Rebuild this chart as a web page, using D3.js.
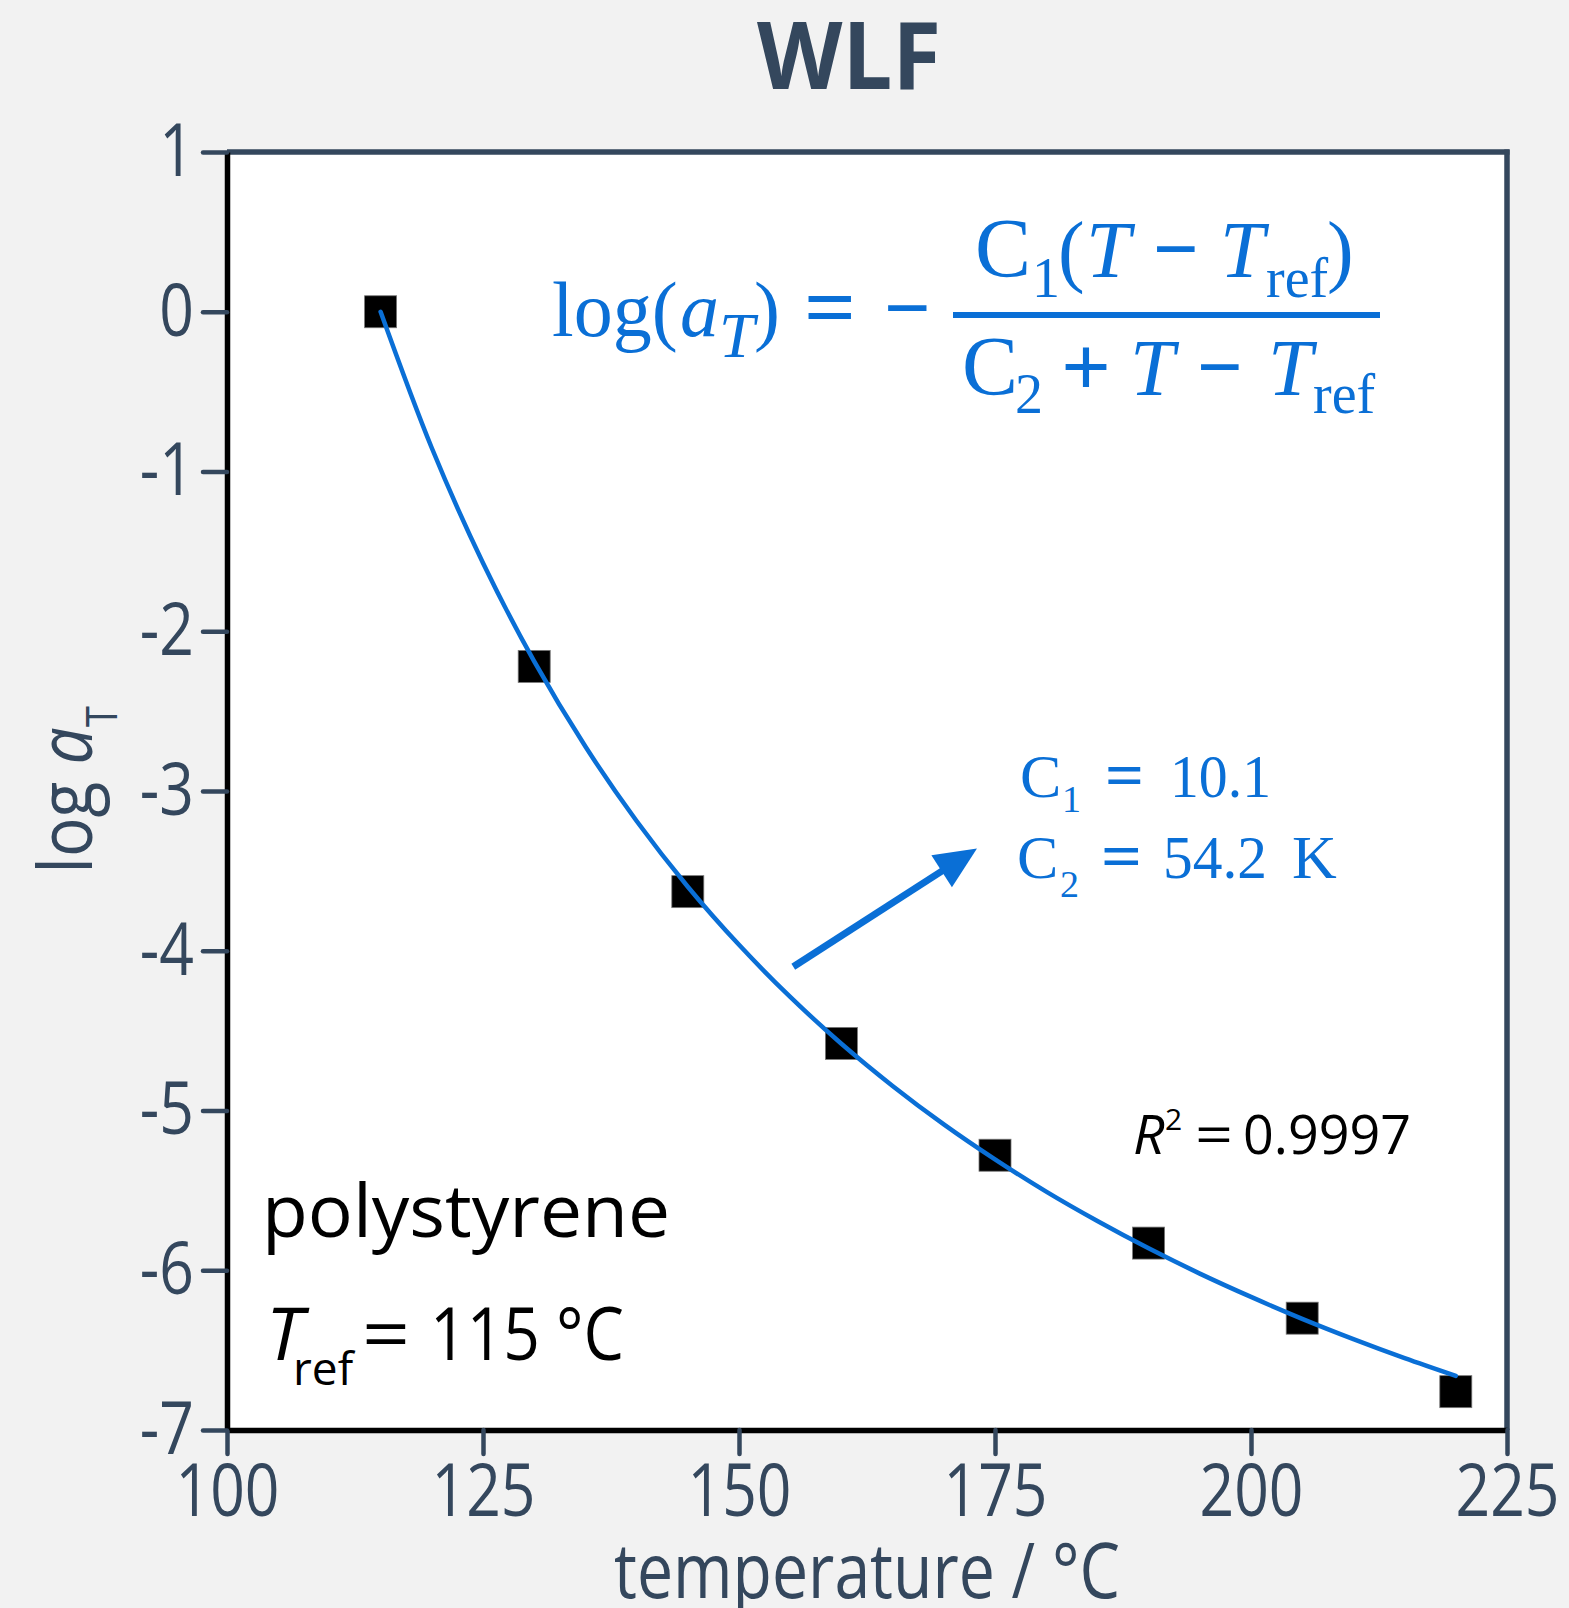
<!DOCTYPE html>
<html><head><meta charset="utf-8">
<script src="https://cdn.jsdelivr.net/npm/d3@7"></script>
<style>html,body{margin:0;padding:0;background:#f2f2f2;}svg{display:block}</style>
</head><body>
<script>
// ---- data ----
const temperatures = [115, 130, 145, 160, 175, 190, 205, 220];
const logAT = [0.0, -2.22, -3.63, -4.58, -5.28, -5.83, -6.30, -6.76];
// fitted WLF curve (C1 = 10.1, C2 = 54.2 K), read at 5 °C steps
const fitT = [115,120,125,130,135,140,145,150,155,160,165,170,175,180,185,190,195,200,205,210,215,220];
const fitLogAT = [0,-0.853,-1.573,-2.189,-2.722,-3.188,-3.599,-3.963,-4.289,-4.582,-4.846,-5.087,-5.306,-5.508,-5.692,-5.863,-6.021,-6.167,-6.304,-6.431,-6.550,-6.661];
const xTicks = [100, 125, 150, 175, 200, 225];
const yTicks = [1, 0, -1, -2, -3, -4, -5, -6, -7];
const xDomain = [100, 225];
const yDomain = [-7, 1];
const titleText = "WLF";
const xLabel = "temperature / °C";
const c1Value = "10.1";
const c2Value = "54.2";
const r2Value = "0.9997";
const trefValue = "115";
// arrow annotation in data units [T, logaT]
const arrowFrom = [155.3, -4.10];
const arrowTo = [173.24, -3.36];

// ---- layout ----
const W = 1569, H = 1608;
const L = 227, R = 1507, T = 152, B = 1430;
const slate = "#34475d", blue = "#0a6fd6";

const svg = d3.select("body").append("svg").attr("width", W).attr("height", H);
svg.append("rect").attr("width", W).attr("height", H).attr("fill", "#f2f2f2");

const x = d3.scaleLinear().domain(xDomain).range([L, R]);
const y = d3.scaleLinear().domain(yDomain).range([B, T]);

svg.append("rect").attr("x", L).attr("y", T).attr("width", R - L).attr("height", B - T).attr("fill", "#fff");

// top & right frame (slate)
svg.append("line").attr("x1", L).attr("x2", R + 2.5).attr("y1", T).attr("y2", T)
  .attr("stroke", slate).attr("stroke-width", 5.5);
svg.append("line").attr("x1", R).attr("x2", R).attr("y1", T - 2.5).attr("y2", B)
  .attr("stroke", slate).attr("stroke-width", 5.5);

const SX = 0.83;
function styleAxis(g) {
  g.select(".domain").attr("stroke", "#000").attr("stroke-width", 5.5);
  g.selectAll(".tick line").attr("stroke", slate).attr("stroke-width", 4.5).attr("stroke-linecap", "round");
  g.selectAll(".tick text").attr("fill", slate).attr("font-family", "'Open Sans', sans-serif").attr("font-size", 73);
}

const gx = svg.append("g").attr("transform", `translate(0,${B})`)
  .call(d3.axisBottom(x).tickValues(xTicks).tickFormat(d => String(d)).tickSize(24).tickSizeOuter(0).tickPadding(10));
styleAxis(gx);
gx.selectAll(".tick text").attr("transform", `scale(${SX},1)`);

const gy = svg.append("g").attr("transform", `translate(${L},0)`)
  .call(d3.axisLeft(y).tickValues(yTicks).tickFormat(d => String(d)).tickSize(24).tickSizeOuter(0).tickPadding(9));
styleAxis(gy);
gy.selectAll(".tick text").each(function () {
  const t = d3.select(this);
  const ox = +t.attr("x");
  t.attr("x", ox / SX).attr("transform", `scale(${SX},1)`);
});

// data squares
const S = 32;
svg.append("g").selectAll("rect").data(temperatures.map((t, i) => [t, logAT[i]])).join("rect")
  .attr("x", d => x(d[0]) - S / 2).attr("y", d => y(d[1]) - S / 2)
  .attr("width", S).attr("height", S).attr("fill", "#000").attr("stroke", "#777").attr("stroke-width", 0.8);

// fit curve (drawn over the squares, as in the reference)
svg.append("path")
  .datum(fitT.map((t, i) => [t, fitLogAT[i]]))
  .attr("d", d3.line().x(d => x(d[0])).y(d => y(d[1])).curve(d3.curveCatmullRom))
  .attr("fill", "none").attr("stroke", blue).attr("stroke-width", 4.5).attr("stroke-linecap", "round");

// arrow
{
  const x0 = x(arrowFrom[0]), y0 = y(arrowFrom[1]);
  const x1 = x(arrowTo[0]), y1 = y(arrowTo[1]);
  const dx = x1 - x0, dy = y1 - y0, len = Math.hypot(dx, dy);
  const ux = dx / len, uy = dy / len, nx = -uy, ny = ux;
  const hl = 42, hw = 19;
  const bx = x1 - hl * ux, by = y1 - hl * uy;
  svg.append("line").attr("x1", x0).attr("y1", y0).attr("x2", bx + 2 * ux).attr("y2", by + 2 * uy)
    .attr("stroke", blue).attr("stroke-width", 7);
  svg.append("path").attr("d", `M${x1},${y1}L${bx + hw * nx},${by + hw * ny}L${bx - hw * nx},${by - hw * ny}Z`)
    .attr("fill", blue);
}

// text helper
function txt(p, tx, ty, s, o) {
  const t = p.append("text").attr("x", tx).attr("y", ty).text(s)
    .attr("font-family", o.family || "'Open Sans', sans-serif")
    .attr("font-size", o.size).attr("fill", o.fill || "#000");
  if (o.style) t.attr("font-style", o.style);
  if (o.weight) t.attr("font-weight", o.weight);
  if (o.anchor) t.attr("text-anchor", o.anchor);
  if (o.len) t.attr("textLength", o.len).attr("lengthAdjust", "spacingAndGlyphs");
  return t;
}
const serif = "'Liberation Serif', 'Times New Roman', serif";

// title
txt(svg, 757, 89, titleText, {size: 94, weight: 700, fill: slate, len: 184});
// x label
txt(svg, 614, 1598, xLabel, {size: 77, fill: slate, len: 506});
// y label
{
  const g = svg.append("g").attr("transform", `translate(92,790) rotate(-90) scale(0.88,1)`);
  const t = g.append("text").attr("text-anchor", "middle").attr("fill", slate)
    .attr("font-family", "'Open Sans', sans-serif").attr("font-size", 75);
  t.append("tspan").text("log ");
  t.append("tspan").attr("font-style", "italic").text("a");
  t.append("tspan").attr("font-size", 43).attr("dy", 25).text("T");
}

// formula
const fm = {family: serif, fill: blue};
const op = {family: serif, fill: blue, weight: 700};
txt(svg, 552, 336, "log(", {...fm, size: 78});
txt(svg, 680, 336, "a", {...fm, size: 78, style: "italic"});
txt(svg, 719, 357, "T", {...fm, size: 64, style: "italic"});
txt(svg, 754, 336, ")", {...fm, size: 78});
txt(svg, 804, 336, "=", {...op, size: 84, len: 52});
txt(svg, 884, 336, "−", {...op, size: 84, len: 47});
svg.append("line").attr("x1", 953).attr("x2", 1380).attr("y1", 315).attr("y2", 315)
  .attr("stroke", blue).attr("stroke-width", 6);
// numerator
txt(svg, 975, 277, "C", {...fm, size: 84});
txt(svg, 1032, 297, "1", {...fm, size: 56});
txt(svg, 1058, 277, "(", {...fm, size: 80});
txt(svg, 1086, 277, "T", {...fm, size: 80, style: "italic"});
txt(svg, 1153, 277, "−", {...op, size: 84, len: 46});
txt(svg, 1220, 277, "T", {...fm, size: 80, style: "italic"});
txt(svg, 1266, 297, "ref", {...fm, size: 56});
txt(svg, 1327, 277, ")", {...fm, size: 80});
// denominator
txt(svg, 962, 395, "C", {...fm, size: 84});
txt(svg, 1015, 413, "2", {...fm, size: 56});
txt(svg, 1061, 395, "+", {...op, size: 84, len: 50});
txt(svg, 1130, 395, "T", {...fm, size: 80, style: "italic"});
txt(svg, 1197, 395, "−", {...op, size: 84, len: 46});
txt(svg, 1268, 395, "T", {...fm, size: 80, style: "italic"});
txt(svg, 1313, 413, "ref", {...fm, size: 56});

// C1 / C2
txt(svg, 1020, 797, "C", {...fm, size: 62});
txt(svg, 1062, 812, "1", {...fm, size: 38});
txt(svg, 1105, 797, "=", {...op, size: 64, len: 39});
txt(svg, 1170, 797, c1Value, {...fm, size: 62, len: 101});
txt(svg, 1017, 878, "C", {...fm, size: 62});
txt(svg, 1060, 897, "2", {...fm, size: 38});
txt(svg, 1101, 878, "=", {...op, size: 64, len: 41});
txt(svg, 1163, 878, c2Value, {...fm, size: 62, len: 104});
txt(svg, 1292, 878, "K", {...fm, size: 62});

// R^2
txt(svg, 1133, 1154, "R", {size: 55, style: "italic"});
txt(svg, 1165, 1130, "2", {size: 30});
txt(svg, 1195, 1154, "=", {size: 55, len: 38});
txt(svg, 1243, 1154, r2Value, {size: 55, len: 168});

// polystyrene & Tref
txt(svg, 262, 1237, "polystyrene", {size: 74, len: 408});
txt(svg, 266, 1360, "T", {size: 74, style: "italic"});
txt(svg, 293, 1385, "ref", {size: 46});
txt(svg, 362, 1360, "=", {size: 74, len: 48});
txt(svg, 430, 1360, trefValue, {size: 74, len: 110});
txt(svg, 556, 1360, "°C", {size: 74, len: 68});
</script>
</body></html>
